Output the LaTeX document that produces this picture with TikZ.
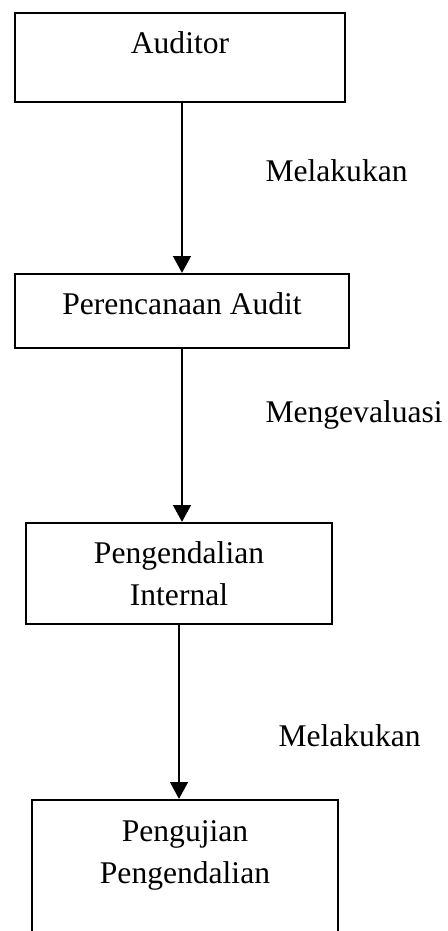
\documentclass[tikz,border=0pt]{standalone}
\usepackage{fontspec}
\setmainfont{Liberation Serif}
\usetikzlibrary{arrows.meta}

\begin{document}
\begin{tikzpicture}[x=0.38pt,y=-0.38pt,
  kotak/.style={draw,line width=0.85pt,inner sep=0pt,align=center,anchor=north,
    font=\fontsize{12}{16}\selectfont},
  panah/.style={line width=1.1pt,-{Triangle[width=6.6pt,length=6.4pt]}},
  ket/.style={anchor=base west,inner sep=0pt,font=\fontsize{12}{16}\selectfont}]
  \useasboundingbox (0,0) rectangle (447,931);
  \clip (0,0) rectangle (447,931);
  % kotak-kotak
  \node[kotak,minimum width=125.4pt,text height=15.2pt,text depth=18.62pt] (auditor) at (180,12) {Auditor};
  \node[kotak,minimum width=126.9pt,text height=15.2pt,text depth=12.92pt] (rencana) at (182,273) {Perencanaan Audit};
  \node[kotak,minimum width=116.3pt,text height=31.16pt,text depth=7.22pt] (internal) at (179,522) {Pengendalian\\Internal};
  \node[kotak,minimum width=116.3pt,text height=31.54pt,text depth=29.6pt] (uji) at (185,799) {Pengujian\\Pengendalian};
  % panah
  \draw[panah] (auditor.south -| rencana.north) -- (rencana.north);
  \draw[panah] (rencana.south) -- (rencana.south |- internal.north);
  \draw[panah] (internal.south) -- (internal.south |- uji.north);
  % keterangan
  \node[ket] (lakukan1) at (265,182) {Melakukan};
  \node[ket] (evaluasi) at (265,422) {Mengevaluasi};
  \node[ket] (lakukan2) at (278,746) {Melakukan};
\end{tikzpicture}
\end{document}
